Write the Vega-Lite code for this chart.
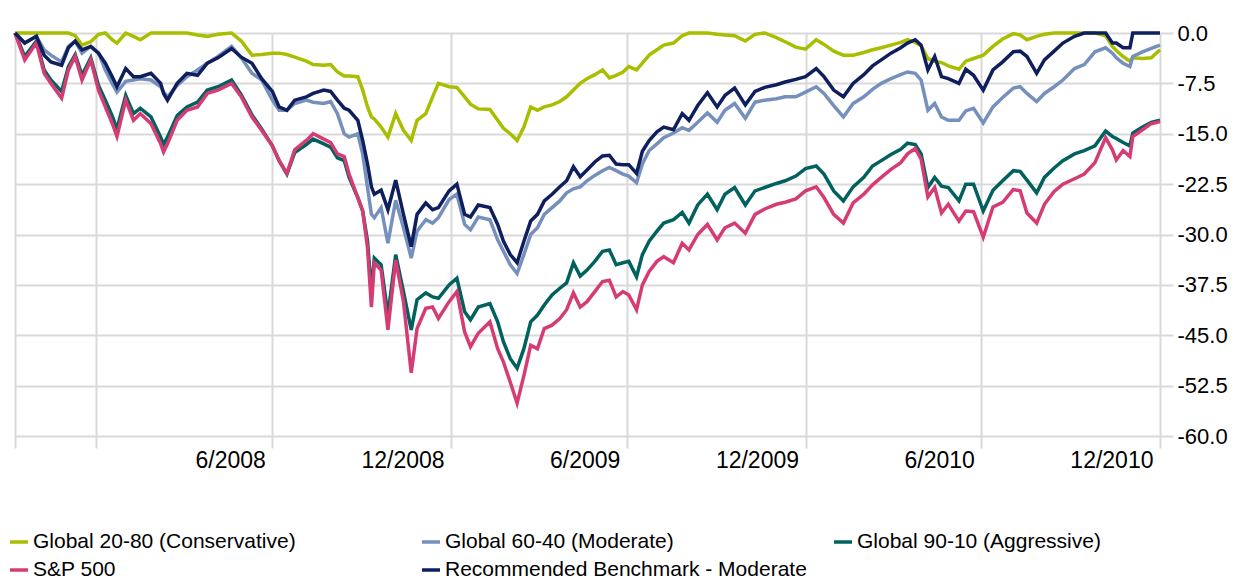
{
"$schema": "https://vega.github.io/schema/vega-lite/v6.json",
"width": 1145, "height": 403,
"autosize": {"type": "none"},
"padding": {"left": 15, "top": 33, "right": 74, "bottom": 143},
"background": "white",
"config": {"view": {"stroke": null}, "font": "Liberation Sans"},
"datasets": {
"names": [
{"k": "C", "name": "Global 20-80 (Conservative)"},
{"k": "M", "name": "Global 60-40 (Moderate)"},
{"k": "A", "name": "Global 90-10 (Aggressive)"},
{"k": "S", "name": "S&P 500"},
{"k": "R", "name": "Recommended Benchmark - Moderate"}
],
"series": [
{"d":"2007-10-09","C":0,"M":0,"A":0,"S":0,"R":0},
{"d":"2007-10-19","C":0,"M":-1.5,"A":-3.5,"S":-4,"R":-1.5},
{"d":"2007-10-31","C":0,"M":-0.5,"A":-1.2,"S":-1.5,"R":-0.5},
{"d":"2007-11-08","C":0,"M":-2.5,"A":-5.5,"S":-6,"R":-3.3},
{"d":"2007-11-15","C":0,"M":-3.3,"A":-7,"S":-7.5,"R":-4.3},
{"d":"2007-11-26","C":0,"M":-4.3,"A":-8.7,"S":-9.7,"R":-4.8},
{"d":"2007-12-03","C":0,"M":-2,"A":-5,"S":-5.5,"R":-2.2},
{"d":"2007-12-10","C":-0.4,"M":-1.2,"A":-3.2,"S":-3.5,"R":-1.2},
{"d":"2007-12-17","C":-1.8,"M":-3,"A":-6.3,"S":-7,"R":-2.5},
{"d":"2007-12-26","C":-1.3,"M":-2,"A":-3.7,"S":-4,"R":-2},
{"d":"2008-01-03","C":-0.2,"M":-3,"A":-7.8,"S":-8.5,"R":-3},
{"d":"2008-01-10","C":0,"M":-5.5,"A":-10,"S":-11,"R":-4.5},
{"d":"2008-01-17","C":-1,"M":-7.5,"A":-12.3,"S":-13.4,"R":-6.5},
{"d":"2008-01-22","C":-1.5,"M":-8.8,"A":-14.3,"S":-15.4,"R":-8},
{"d":"2008-01-31","C":0,"M":-7.2,"A":-9.3,"S":-10,"R":-5.3},
{"d":"2008-02-08","C":-0.5,"M":-7,"A":-12,"S":-13,"R":-6.5},
{"d":"2008-02-15","C":-1,"M":-6.8,"A":-11.2,"S":-12,"R":-6.5},
{"d":"2008-02-26","C":0,"M":-7,"A":-12.5,"S":-13.5,"R":-6},
{"d":"2008-03-07","C":0,"M":-8,"A":-15.5,"S":-16.5,"R":-7.5},
{"d":"2008-03-10","C":0,"M":-8.8,"A":-16.6,"S":-17.7,"R":-9},
{"d":"2008-03-14","C":0,"M":-9.5,"A":-15.5,"S":-16.5,"R":-10},
{"d":"2008-03-24","C":0,"M":-7.8,"A":-12.3,"S":-13,"R":-7.5},
{"d":"2008-04-03","C":0,"M":-6.5,"A":-11,"S":-11.5,"R":-6},
{"d":"2008-04-14","C":-0.3,"M":-5.5,"A":-10.3,"S":-11,"R":-6.3},
{"d":"2008-04-24","C":-0.5,"M":-4.5,"A":-8.5,"S":-9,"R":-4.5},
{"d":"2008-05-05","C":-0.2,"M":-3.5,"A":-8,"S":-8.5,"R":-3.7},
{"d":"2008-05-19","C":0,"M":-2,"A":-7,"S":-7.5,"R":-2.3},
{"d":"2008-05-29","C":-1.2,"M":-3.7,"A":-9.2,"S":-9.5,"R":-3.6},
{"d":"2008-06-09","C":-3.3,"M":-6,"A":-12.2,"S":-12.5,"R":-4.5},
{"d":"2008-06-19","C":-3.2,"M":-7,"A":-14.3,"S":-14.5,"R":-6.8},
{"d":"2008-06-30","C":-3,"M":-10,"A":-16.8,"S":-16.8,"R":-8.7},
{"d":"2008-07-07","C":-3,"M":-11.5,"A":-19,"S":-19,"R":-11},
{"d":"2008-07-15","C":-3.2,"M":-11.5,"A":-21,"S":-20.9,"R":-11.5},
{"d":"2008-07-23","C":-3.6,"M":-10.5,"A":-17.8,"S":-17.4,"R":-10},
{"d":"2008-08-04","C":-4.2,"M":-10,"A":-16.6,"S":-16,"R":-9.5},
{"d":"2008-08-11","C":-4.7,"M":-10.3,"A":-15.8,"S":-15,"R":-9},
{"d":"2008-08-22","C":-4.8,"M":-10.5,"A":-16.5,"S":-15.8,"R":-8.5},
{"d":"2008-08-29","C":-4.7,"M":-10.2,"A":-17,"S":-16.3,"R":-8.7},
{"d":"2008-09-05","C":-5.8,"M":-12,"A":-18.6,"S":-18,"R":-10},
{"d":"2008-09-12","C":-6.4,"M":-15,"A":-19,"S":-18.4,"R":-11.2},
{"d":"2008-09-17","C":-6.4,"M":-15.5,"A":-21.5,"S":-21,"R":-11.5},
{"d":"2008-09-26","C":-6.5,"M":-15,"A":-24.5,"S":-24.5,"R":-13},
{"d":"2008-10-01","C":-8.5,"M":-18,"A":-26.5,"S":-26.5,"R":-16},
{"d":"2008-10-06","C":-11,"M":-23,"A":-31,"S":-32,"R":-19.5},
{"d":"2008-10-10","C":-12.5,"M":-27,"A":-38.5,"S":-40.8,"R":-22.9},
{"d":"2008-10-13","C":-12.8,"M":-27.5,"A":-33.5,"S":-34.2,"R":-24},
{"d":"2008-10-20","C":-14,"M":-26,"A":-34.5,"S":-35.3,"R":-23.4},
{"d":"2008-10-27","C":-15.5,"M":-31.3,"A":-42,"S":-44.2,"R":-26.3},
{"d":"2008-11-04","C":-12,"M":-24.9,"A":-33,"S":-33.8,"R":-21.9},
{"d":"2008-11-12","C":-14.5,"M":-29,"A":-38.5,"S":-40,"R":-27},
{"d":"2008-11-20","C":-16,"M":-33.5,"A":-44.2,"S":-50.6,"R":-31.8},
{"d":"2008-11-26","C":-13,"M":-29.5,"A":-39.7,"S":-44,"R":-27},
{"d":"2008-12-05","C":-12,"M":-27.8,"A":-38.7,"S":-41,"R":-25.3},
{"d":"2008-12-12","C":-9.5,"M":-28.3,"A":-39.3,"S":-40.8,"R":-26.3},
{"d":"2008-12-18","C":-7.5,"M":-27.5,"A":-39.5,"S":-42.5,"R":-26},
{"d":"2008-12-29","C":-8,"M":-24.8,"A":-37.5,"S":-40,"R":-23.5},
{"d":"2009-01-06","C":-8.1,"M":-24,"A":-36.5,"S":-38.5,"R":-22.5},
{"d":"2009-01-14","C":-9.5,"M":-28.5,"A":-41.5,"S":-44.5,"R":-27},
{"d":"2009-01-20","C":-10.6,"M":-29.3,"A":-42.7,"S":-46.7,"R":-27.4},
{"d":"2009-01-28","C":-11.3,"M":-27.4,"A":-40.8,"S":-44.7,"R":-25.6},
{"d":"2009-02-09","C":-11.4,"M":-27.8,"A":-40.3,"S":-43,"R":-26},
{"d":"2009-02-17","C":-13,"M":-30.8,"A":-43,"S":-47,"R":-28.5},
{"d":"2009-02-23","C":-14.2,"M":-32.5,"A":-46,"S":-49,"R":-31},
{"d":"2009-03-02","C":-15,"M":-34.5,"A":-48.5,"S":-52,"R":-33},
{"d":"2009-03-09","C":-16,"M":-35.8,"A":-49.9,"S":-55.1,"R":-34.2},
{"d":"2009-03-16","C":-14,"M":-33,"A":-47,"S":-51,"R":-31},
{"d":"2009-03-23","C":-11,"M":-30,"A":-43,"S":-46.5,"R":-28},
{"d":"2009-03-30","C":-11.5,"M":-29,"A":-42,"S":-47,"R":-27},
{"d":"2009-04-06","C":-11,"M":-27,"A":-40.5,"S":-44,"R":-25},
{"d":"2009-04-14","C":-10.7,"M":-26,"A":-39,"S":-43.5,"R":-24},
{"d":"2009-04-22","C":-10.2,"M":-25,"A":-38,"S":-42.5,"R":-22.9},
{"d":"2009-04-29","C":-9.5,"M":-23.8,"A":-37.2,"S":-41.2,"R":-22},
{"d":"2009-05-06","C":-8.5,"M":-23.2,"A":-34.2,"S":-38.7,"R":-19.9},
{"d":"2009-05-13","C":-7.5,"M":-22.9,"A":-36.2,"S":-40.8,"R":-21.4},
{"d":"2009-05-20","C":-6.8,"M":-22,"A":-35.3,"S":-40,"R":-20.4},
{"d":"2009-05-28","C":-6.2,"M":-21.2,"A":-34,"S":-38.5,"R":-19.2},
{"d":"2009-06-05","C":-5.5,"M":-20.5,"A":-32.5,"S":-37,"R":-18.3},
{"d":"2009-06-12","C":-6.7,"M":-20,"A":-32.3,"S":-36.8,"R":-18.2},
{"d":"2009-06-19","C":-6.3,"M":-20.5,"A":-34.5,"S":-39.3,"R":-19.5},
{"d":"2009-06-26","C":-5.8,"M":-21,"A":-34.2,"S":-38.5,"R":-19.6},
{"d":"2009-07-02","C":-5,"M":-21.3,"A":-34,"S":-39,"R":-19.6},
{"d":"2009-07-10","C":-5.5,"M":-22.3,"A":-36.3,"S":-41.2,"R":-20.9},
{"d":"2009-07-16","C":-4.5,"M":-19.5,"A":-33,"S":-37.5,"R":-17.6},
{"d":"2009-07-23","C":-3.3,"M":-17.5,"A":-31,"S":-35.5,"R":-16},
{"d":"2009-07-31","C":-2.5,"M":-16.5,"A":-29.5,"S":-34,"R":-14.7},
{"d":"2009-08-07","C":-1.8,"M":-15.6,"A":-28.3,"S":-33.3,"R":-14},
{"d":"2009-08-17","C":-1.5,"M":-14.9,"A":-27.8,"S":-34.2,"R":-14.4},
{"d":"2009-08-26","C":-0.4,"M":-14.1,"A":-26.7,"S":-31.3,"R":-12},
{"d":"2009-09-02","C":0,"M":-14.5,"A":-28.3,"S":-32.3,"R":-13},
{"d":"2009-09-11","C":0,"M":-13.3,"A":-25.6,"S":-30,"R":-10.8},
{"d":"2009-09-21","C":0,"M":-11.9,"A":-24,"S":-28.5,"R":-8.9},
{"d":"2009-10-01","C":-0.2,"M":-13.3,"A":-26.3,"S":-30.8,"R":-11},
{"d":"2009-10-09","C":-0.3,"M":-11.5,"A":-24,"S":-29,"R":-9.3},
{"d":"2009-10-19","C":-0.4,"M":-10.5,"A":-23,"S":-28.3,"R":-8.2},
{"d":"2009-10-30","C":-1.2,"M":-12.7,"A":-25.6,"S":-29.8,"R":-10.7},
{"d":"2009-11-09","C":-0.2,"M":-10.3,"A":-23.5,"S":-27,"R":-8.7},
{"d":"2009-11-19","C":0,"M":-10,"A":-23,"S":-26.2,"R":-8.1},
{"d":"2009-12-01","C":-0.7,"M":-9.8,"A":-22.4,"S":-25.5,"R":-7.7},
{"d":"2009-12-10","C":-1.3,"M":-9.5,"A":-22,"S":-25.2,"R":-7.3},
{"d":"2009-12-21","C":-2.1,"M":-9.5,"A":-21.3,"S":-24.7,"R":-6.9},
{"d":"2009-12-31","C":-2.4,"M":-8.8,"A":-20.2,"S":-23.5,"R":-6.5},
{"d":"2010-01-11","C":-1,"M":-8,"A":-19.8,"S":-22.9,"R":-5.3},
{"d":"2010-01-19","C":-1.7,"M":-9,"A":-21,"S":-24.5,"R":-6.5},
{"d":"2010-01-29","C":-2.7,"M":-10.8,"A":-23.5,"S":-27,"R":-8.5},
{"d":"2010-02-08","C":-3.3,"M":-12.5,"A":-25,"S":-28.3,"R":-9.5},
{"d":"2010-02-18","C":-3.3,"M":-10.5,"A":-22.9,"S":-25.3,"R":-7.5},
{"d":"2010-03-01","C":-2.9,"M":-9.5,"A":-21.5,"S":-24,"R":-6.2},
{"d":"2010-03-10","C":-2.5,"M":-8.4,"A":-19.8,"S":-22.6,"R":-4.9},
{"d":"2010-03-19","C":-2.2,"M":-7.5,"A":-19,"S":-21.5,"R":-4},
{"d":"2010-03-29","C":-1.8,"M":-6.8,"A":-18.1,"S":-20.3,"R":-3},
{"d":"2010-04-08","C":-1.4,"M":-6.2,"A":-17.3,"S":-19.3,"R":-2.2},
{"d":"2010-04-15","C":-1,"M":-5.8,"A":-16.4,"S":-18,"R":-1.5},
{"d":"2010-04-23","C":-1.4,"M":-6,"A":-16.6,"S":-17.2,"R":-1},
{"d":"2010-04-29","C":-1.9,"M":-7,"A":-18,"S":-18.8,"R":-1.8},
{"d":"2010-05-06","C":-3.8,"M":-11.5,"A":-23,"S":-24.4,"R":-5.5},
{"d":"2010-05-13","C":-4.2,"M":-10.5,"A":-21.5,"S":-23,"R":-3.5},
{"d":"2010-05-20","C":-4.4,"M":-12.5,"A":-22.8,"S":-26.8,"R":-6.5},
{"d":"2010-05-27","C":-4.9,"M":-13,"A":-23,"S":-25.5,"R":-6.8},
{"d":"2010-06-07","C":-5.4,"M":-13,"A":-25,"S":-28,"R":-7.5},
{"d":"2010-06-14","C":-4.2,"M":-11.6,"A":-22.5,"S":-26.5,"R":-5.4},
{"d":"2010-06-22","C":-3.8,"M":-11.2,"A":-22.5,"S":-26.6,"R":-6.3},
{"d":"2010-07-02","C":-3.3,"M":-13.4,"A":-26.5,"S":-30.4,"R":-8.5},
{"d":"2010-07-12","C":-2,"M":-11,"A":-23.4,"S":-25.9,"R":-5.5},
{"d":"2010-07-22","C":-0.9,"M":-9.6,"A":-22,"S":-25.2,"R":-4.3},
{"d":"2010-08-02","C":-0.1,"M":-8.2,"A":-20.5,"S":-23.3,"R":-2.8},
{"d":"2010-08-09","C":-0.3,"M":-8,"A":-20.6,"S":-23.5,"R":-2.7},
{"d":"2010-08-16","C":-1,"M":-9,"A":-21.9,"S":-26.8,"R":-3.5},
{"d":"2010-08-26","C":-0.5,"M":-10.2,"A":-23.8,"S":-28.3,"R":-6},
{"d":"2010-09-03","C":-0.2,"M":-9,"A":-21.5,"S":-25.5,"R":-4},
{"d":"2010-09-13","C":0,"M":-8,"A":-20.1,"S":-23.6,"R":-2.7},
{"d":"2010-09-22","C":0,"M":-7,"A":-19,"S":-22.5,"R":-1.5},
{"d":"2010-10-04","C":0,"M":-5.3,"A":-18,"S":-21.7,"R":-0.5},
{"d":"2010-10-14","C":0,"M":-4.7,"A":-17.5,"S":-21,"R":0},
{"d":"2010-10-25","C":0,"M":-2.8,"A":-16.8,"S":-19.3,"R":0},
{"d":"2010-11-05","C":-0.4,"M":-2.2,"A":-14.6,"S":-15.6,"R":0},
{"d":"2010-11-12","C":-2,"M":-3,"A":-15.4,"S":-17.4,"R":-1.5},
{"d":"2010-11-16","C":-2.6,"M":-3.7,"A":-15.7,"S":-18.9,"R":-1.5},
{"d":"2010-11-23","C":-3.5,"M":-4.5,"A":-16.3,"S":-17.5,"R":-2.2},
{"d":"2010-11-30","C":-4.2,"M":-5,"A":-16.8,"S":-18.4,"R":-2.2},
{"d":"2010-12-03","C":-3.7,"M":-3.5,"A":-14.9,"S":-15.4,"R":0},
{"d":"2010-12-13","C":-3.8,"M":-2.8,"A":-14,"S":-14.4,"R":0},
{"d":"2010-12-22","C":-3.7,"M":-2.3,"A":-13.3,"S":-13.5,"R":0},
{"d":"2010-12-31","C":-2.5,"M":-1.8,"A":-13,"S":-13.2,"R":0}
]
},
"data": {"name": "series"},
"transform": [
{"fold": ["C", "M", "A", "S", "R"], "as": ["k", "v"]},
{"lookup": "k", "from": {"data": {"name": "names"}, "key": "k", "fields": ["name"]}}
],
"mark": {"type": "line", "strokeWidth": 3.5},
"encoding": {
"x": {
"field": "d", "type": "temporal",
"scale": {"type": "utc", "domain": [{"year": 2007, "month": 10, "date": 9, "utc": true}, {"year": 2010, "month": 12, "date": 31, "utc": true}]},
"axis": {
"title": null,
"values": [
{"year": 2007, "month": 10, "date": 9, "utc": true},
{"year": 2007, "month": 12, "date": 31, "utc": true},
{"year": 2008, "month": 6, "date": 30, "utc": true},
{"year": 2008, "month": 12, "date": 31, "utc": true},
{"year": 2009, "month": 6, "date": 30, "utc": true},
{"year": 2009, "month": 12, "date": 31, "utc": true},
{"year": 2010, "month": 6, "date": 30, "utc": true},
{"year": 2010, "month": 12, "date": 31, "utc": true}
],
"labelExpr": "utcyear(datum.value) < 2008 ? '' : utcFormat(datum.value, '%-m/%Y')",
"grid": true, "gridColor": "#d9d9d9", "gridWidth": 2,
"domain": false,
"tickSize": 12, "tickColor": "#d9d9d9", "tickWidth": 2,
"labelAlign": "right", "labelOffset": -7, "labelPadding": 1, "labelBaseline": "top",
"labelFontSize": 23, "labelColor": "#000000",
"labelOverlap": false, "labelFlush": false, "labelBound": false
}
},
"y": {
"field": "v", "type": "quantitative",
"scale": {"domain": [-60, 0], "nice": false, "zero": false},
"axis": {
"title": null, "orient": "right",
"values": [0, -7.5, -15, -22.5, -30, -37.5, -45, -52.5, -60],
"labelExpr": "(datum.value < 0 ? '-' : '') + format(abs(datum.value), '.1f')",
"grid": true, "gridColor": "#d9d9d9", "gridWidth": 2,
"domain": false,
"tickSize": 13, "tickColor": "#d9d9d9", "tickWidth": 2,
"labelFontSize": 22, "labelPadding": 4, "labelColor": "#000000",
"labelOverlap": false, "labelBound": false
}
},
"color": {
"field": "name", "type": "nominal",
"scale": {
"domain": ["Global 20-80 (Conservative)", "Global 60-40 (Moderate)", "Global 90-10 (Aggressive)", "S&P 500", "Recommended Benchmark - Moderate"],
"range": ["#a9be00", "#7590bd", "#00615f", "#d63c74", "#0f1f5e"]
},
"legend": {
"title": null, "orient": "none", "legendX": -7, "legendY": 498,
"direction": "horizontal", "columns": 3, "gridAlign": "all",
"symbolType": "stroke", "symbolSize": 324, "symbolStrokeWidth": 3.5,
"labelFontSize": 21, "labelColor": "#000000", "labelLimit": 600, "labelOffset": 3,
"columnPadding": 20, "rowPadding": 7, "padding": 0
}
}
}
}
